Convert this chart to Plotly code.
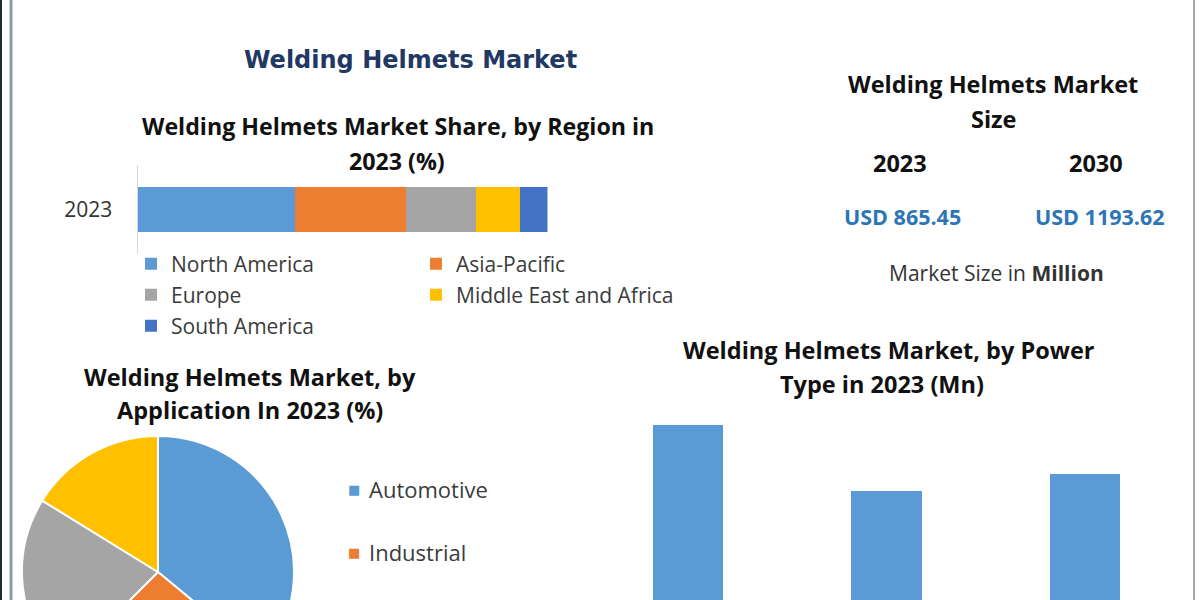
import plotly.graph_objects as go

# ---------------- data ----------------
region_years = ["2023"]
regions = ["North America", "Asia-Pacific", "Europe", "Middle East and Africa", "South America"]
region_share = [38.3, 27.1, 17.1, 10.7, 6.8]
region_colors = ["#5B9BD5", "#ED7D31", "#A5A5A5", "#FFC000", "#4472C4"]

applications = ["Automotive", "Industrial", "Construction", "Others"]
application_share = [36.0, 26.5, 21.3, 16.2]
application_colors = ["#5B9BD5", "#ED7D31", "#A5A5A5", "#FFC000"]

power_types = ["Battery Powered", "Solar Powered", "Battery & Solar Powered"]
power_values = [331.6, 257.4, 276.5]
power_color = "#5B9BD5"

size_years = ["2023", "2030"]
size_values = [865.45, 1193.62]

# ---------------- layout helpers ----------------
W, H = 1200, 720
VISIBLE_H = 600
TITLE_FONT = "DejaVu Sans"
FONT = "Open Sans"


def fx(px):
    return px / W


def fy(py):
    return 1 - py / H


fig = go.Figure()

# stacked region bar
for i, (name, val, col) in enumerate(zip(regions, region_share, region_colors)):
    leg = ["legend", "legend2", "legend3"][i // 2]
    fig.add_trace(go.Bar(
        x=[val], y=region_years, name=name, orientation="h",
        marker=dict(color=col, line=dict(width=0)), width=0.506,
        xaxis="x", yaxis="y", legend=leg, hoverinfo="x+name",
    ))

# application pie
fig.add_trace(go.Pie(
    labels=applications, values=application_share, sort=False,
    direction="clockwise", rotation=0, textinfo="none",
    marker=dict(colors=application_colors, line=dict(color="white", width=2)),
    domain=dict(x=[fx(22), fx(294)], y=[fy(708), fy(436)]),
    showlegend=False,
))

# power type bars
fig.add_trace(go.Bar(
    x=power_types, y=power_values, marker=dict(color=power_color, line=dict(width=0)),
    width=0.353, xaxis="x2", yaxis="y2", showlegend=False,
))

legend_common = dict(
    orientation="h", xanchor="left", yanchor="middle", entrywidth=240,
    font=dict(family=FONT, size=21, color="#3b3b3b"), bgcolor="rgba(0,0,0,0)",
    itemclick=False, itemdoubleclick=False, traceorder="normal",
)

annotations = []


def ann(text, x, y, size, color="#111111", family=FONT, xanchor="center"):
    annotations.append(dict(
        text=text, x=fx(x), y=fy(y), xref="paper", yref="paper",
        xanchor=xanchor, yanchor="middle", showarrow=False,
        font=dict(family=family, size=size, color=color),
    ))


ann("<b>Welding Helmets Market</b>", 410, 60, 24, color="#1F3864", family=TITLE_FONT)
ann("<b>Welding Helmets Market Share, by Region in</b>", 398, 126, 23.2)
ann("<b>2023 (%)</b>", 397, 161, 23.2)

ann("<b>Welding Helmets Market</b>", 993, 84, 23.5)
ann("<b>Size</b>", 993, 119, 23.5)
for yr, v, cx in zip(size_years, size_values, [900, 1096]):
    ann(f"<b>{yr}</b>", cx, 163, 23.5)
    ann(f"<b>USD {v:.2f}</b>", cx + 3, 216, 21.5, color="#2E75B6")
ann("Market Size in <b>Million</b>", 996, 273, 21, color="#333333")

ann("<b>Welding Helmets Market, by Power</b>", 889, 350, 23.5)
ann("<b>Type in 2023 (Mn)</b>", 882, 384, 23.5)

ann("<b>Welding Helmets Market, by</b>", 250, 377, 23.5)
ann("<b>Application In 2023 (%)</b>", 250, 410, 23.5)

# pie legend (only the rows that fall inside the visible window)
for i, (name, col) in enumerate(zip(applications, application_colors)):
    yy = 489 + 63 * i
    if yy + 12 > VISIBLE_H:
        break
    ann("■", 354, yy, 13, color=col, family="DejaVu Sans")
    ann(name, 367, yy, 22, color="#3b3b3b", xanchor="left")

shapes = [
    dict(type="line", xref="paper", yref="paper", x0=fx(1), x1=fx(1), y0=0, y1=1,
         line=dict(color="#1d2a2e", width=2)),
    dict(type="line", xref="paper", yref="paper", x0=fx(11), x1=fx(11), y0=0, y1=1,
         line=dict(color="#8f9ba4", width=3)),
    dict(type="line", xref="paper", yref="paper", x0=fx(1194), x1=fx(1194), y0=0, y1=1,
         line=dict(color="#a3abb1", width=2)),
]

fig.update_layout(
    width=W, height=H,
    margin=dict(l=0, r=0, t=0, b=0, pad=0),
    paper_bgcolor="white", plot_bgcolor="white",
    barmode="stack",
    font=dict(family=FONT, color="#333333"),
    xaxis=dict(domain=[fx(137.5), fx(547.5)], range=[0, 100], visible=False, fixedrange=True),
    yaxis=dict(domain=[fy(254), fy(165)], range=[-0.5, 0.5], showline=True, linecolor="#d9d9d9",
               linewidth=1, showgrid=False, zeroline=False, ticks="", ticklabelstandoff=20,
               tickfont=dict(family=FONT, size=21, color="#333333"), fixedrange=True),
    xaxis2=dict(domain=[fx(589), fx(1184)], range=[-0.5, 2.5], showticklabels=False,
                showgrid=False, zeroline=False, showline=False, ticks="", anchor="y2"),
    yaxis2=dict(domain=[0, fy(400)], range=[0, 360], visible=False, anchor="x2"),
    legend=dict(x=fx(131), y=fy(264), **legend_common),
    legend2=dict(x=fx(131), y=fy(295), **legend_common),
    legend3=dict(x=fx(131), y=fy(326), **legend_common),
    annotations=annotations,
    shapes=shapes,
)

fig.write_html("out.html")
